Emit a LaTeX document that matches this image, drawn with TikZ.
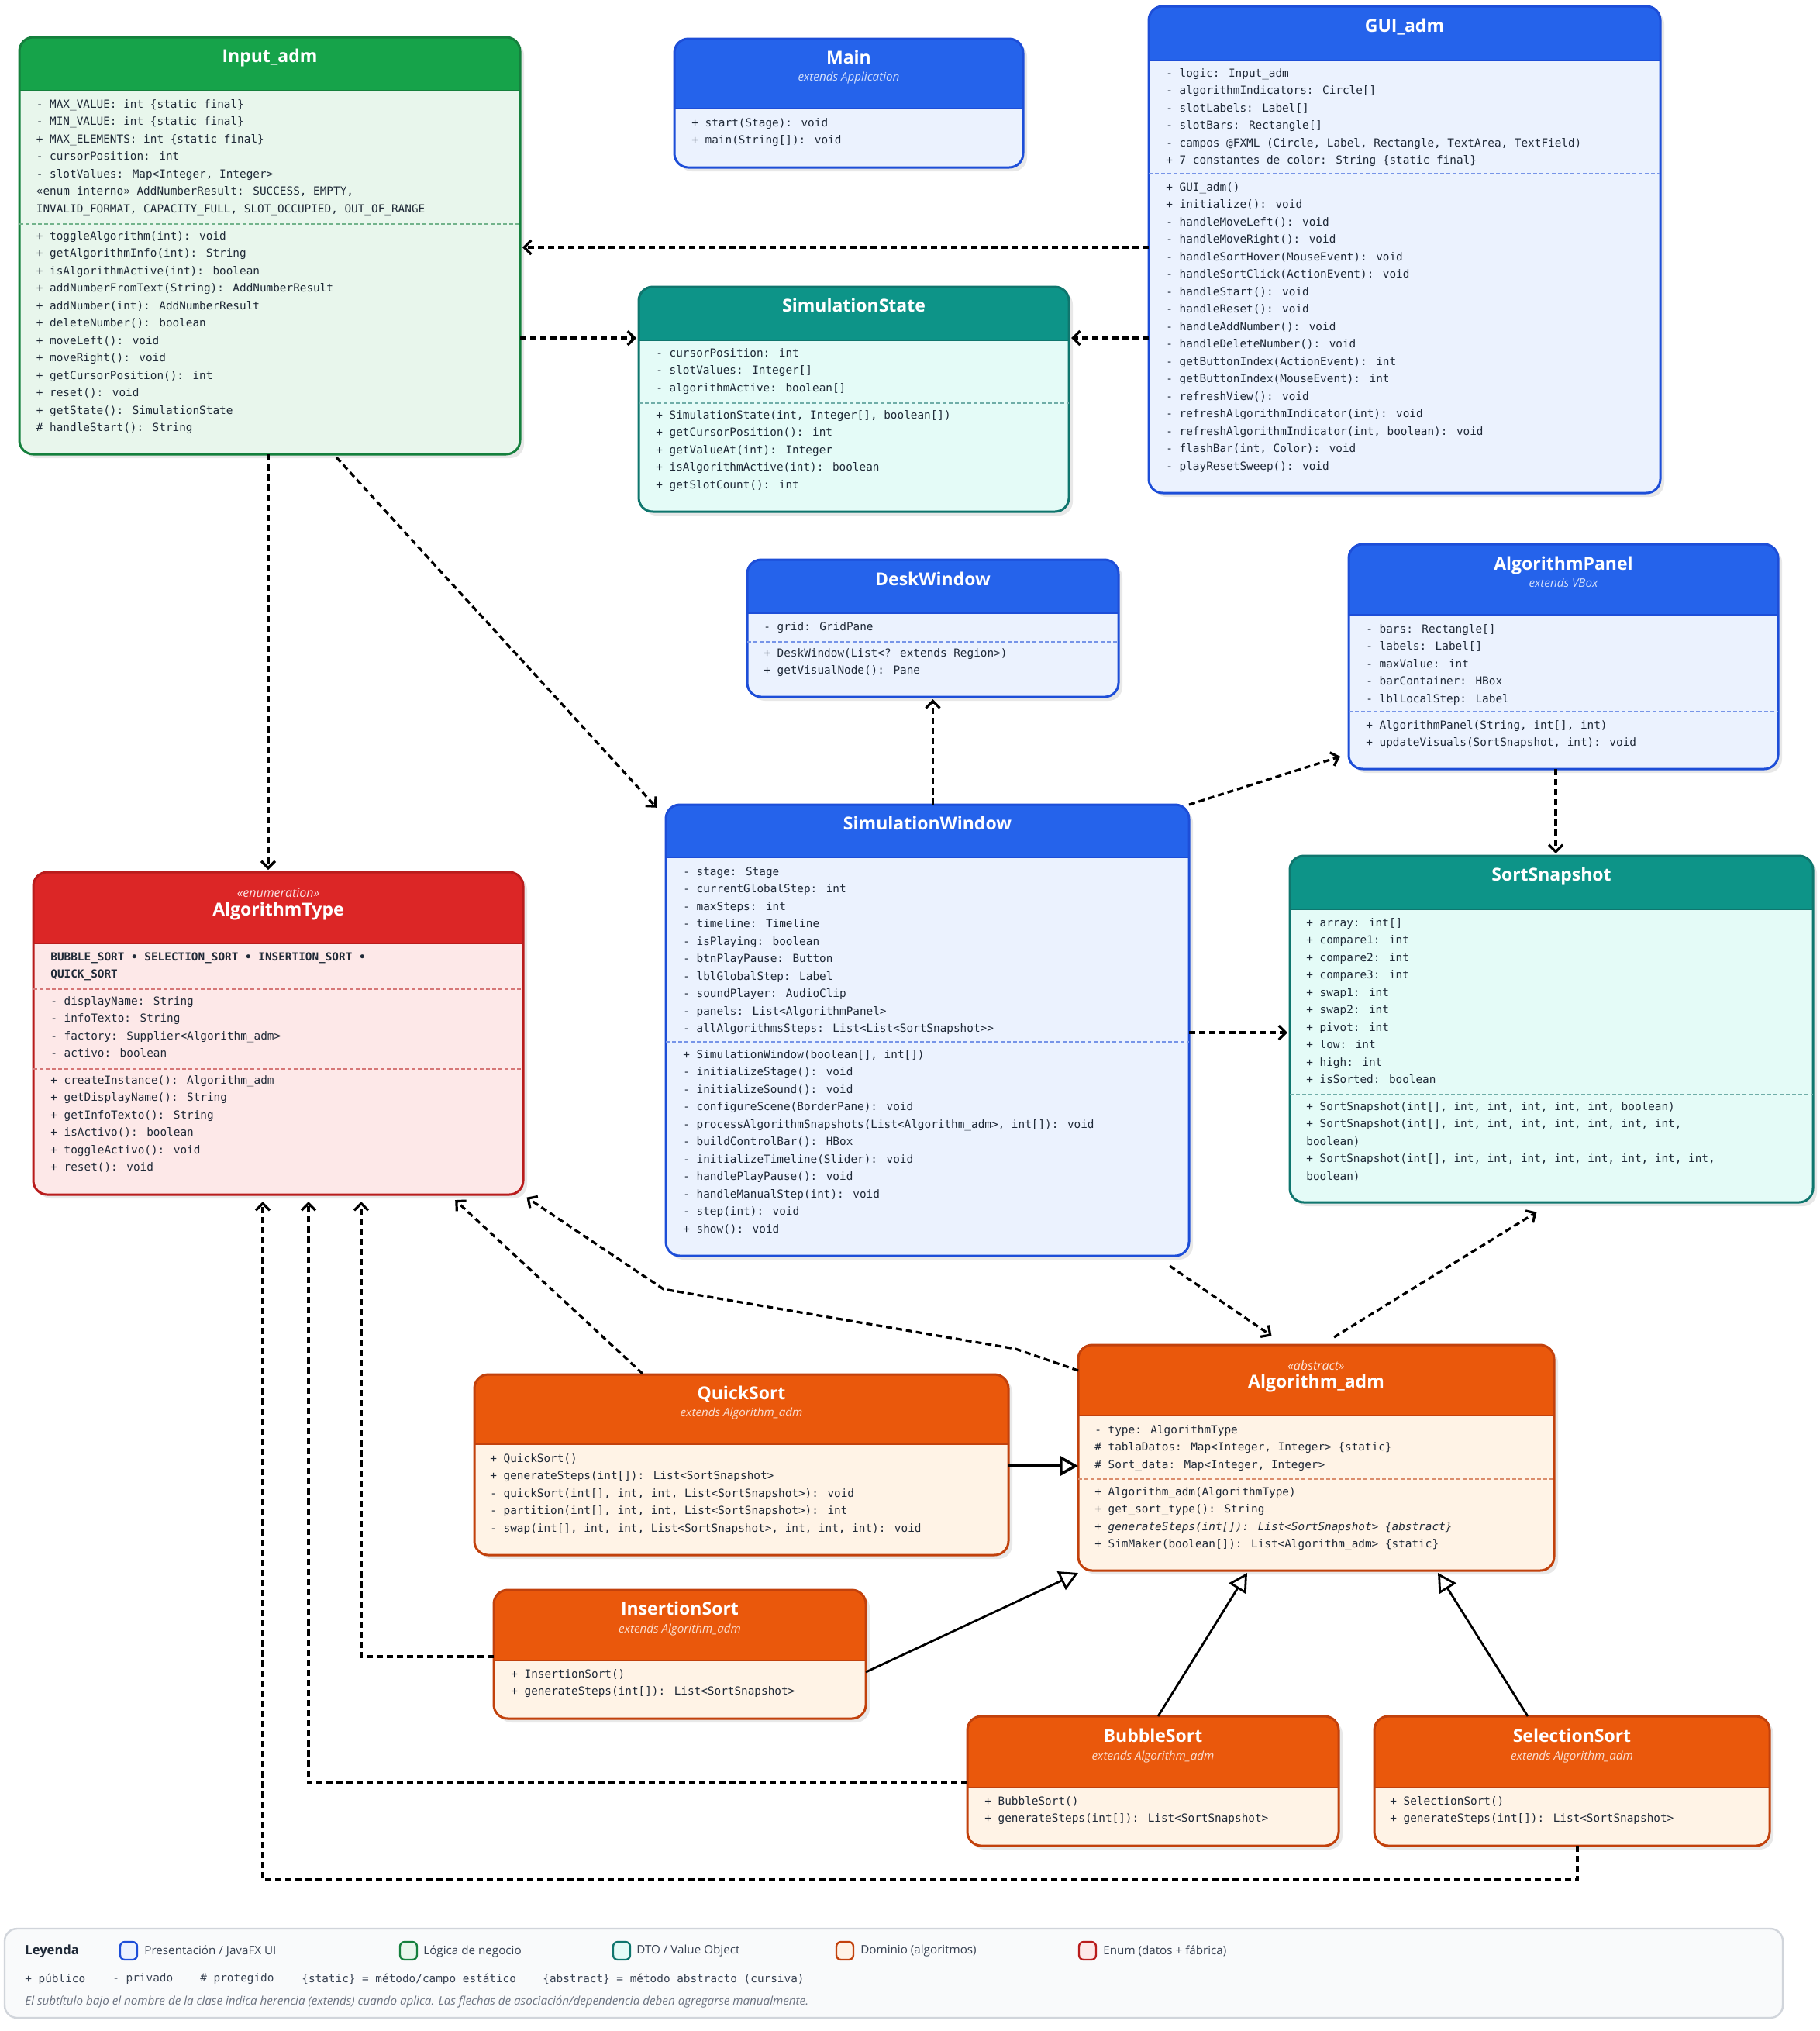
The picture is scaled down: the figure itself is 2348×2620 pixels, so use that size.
\documentclass[tikz,border=0pt]{standalone}
\usepackage{fontspec}
\setmainfont{Open Sans}
\newfontfamily\monof{DejaVu Sans Mono}
\usetikzlibrary{arrows.meta,calc,fit}
\definecolor{blueH}{HTML}{2563EB}\definecolor{blueB}{HTML}{EBF2FE}\definecolor{blueD}{HTML}{1D4ED8}
\definecolor{greenH}{HTML}{16A34A}\definecolor{greenB}{HTML}{E8F6EC}\definecolor{greenD}{HTML}{15803D}
\definecolor{tealH}{HTML}{0D9488}\definecolor{tealB}{HTML}{E4FBF7}\definecolor{tealD}{HTML}{0F766E}
\definecolor{orangeH}{HTML}{EA580C}\definecolor{orangeB}{HTML}{FFF3E6}\definecolor{orangeD}{HTML}{C2410C}
\definecolor{redH}{HTML}{DC2626}\definecolor{redB}{HTML}{FDE8E8}\definecolor{redD}{HTML}{B91C1C}
\definecolor{txt}{HTML}{1F2937}
\definecolor{legB}{HTML}{F9FAFB}\definecolor{legD}{HTML}{D1D5DB}
\definecolor{legT}{HTML}{374151}\definecolor{legI}{HTML}{6B7280}
\newcommand{\umlbox}[7]{%
  \fill[black!9, rounded corners=9pt] (#2+5,#3+5) rectangle (#4+5,#5+5);
  \begin{scope}
    \clip[rounded corners=9pt] (#2,#3) rectangle (#4,#5);
    \fill[#7B] (#2,#3) rectangle (#4,#5);
    \fill[#7H] (#2,#3) rectangle (#4,#6);
  \end{scope}
  \draw[#7D, line width=1.2pt] (#2,#6) -- (#4,#6);
  \draw[#7D, line width=1.5pt, rounded corners=9pt] (#2,#3) rectangle (#4,#5);
  \node[fit={(#2,#3) (#4,#5)}, inner sep=0pt, outer sep=0pt] (#1) {};
}
\newcommand{\umlsep}[4]{\draw[#4D!60, line width=0.6pt, dash pattern=on 2.5pt off 1.5pt] (#1,#3) -- (#2,#3);}
\tikzset{
  ttl/.style={font=\bfseries\fontsize{11.5}{13}\selectfont, text=white, anchor=base, inner sep=0pt},
  subt/.style={font=\itshape\fontsize{7.6}{9}\selectfont, text=white, text opacity=0.8, anchor=base, inner sep=0pt},
  stereo/.style={font=\itshape\fontsize{8}{9}\selectfont, text=white, text opacity=0.85, anchor=base, inner sep=0pt},
  body/.style={font=\monof\fontsize{7.18}{11.25}\selectfont, text=txt, anchor=north west, inner sep=0pt, align=left},
  dep/.style={draw=black, line width=1.6pt, dash pattern=on 4pt off 2.5pt, shorten >=1.5pt,
    -{Straight Barb[length=4.5pt,width=9pt]}},
  gen/.style={draw=black, line width=1.4pt, -{Triangle[fill=white,length=12pt,width=13pt]}},
  swatch/.style={line width=1.2pt, rounded corners=3pt},
  legtxt/.style={font=\fontsize{7.6}{9}\selectfont, text=legT, anchor=west, inner sep=0pt},
  legmono/.style={font=\monof\fontsize{7.18}{9}\selectfont, text=legT, anchor=west, inner sep=0pt}
}
\begin{document}
\begin{tikzpicture}[x=0.5pt,y=-0.5pt]
\useasboundingbox (0,0) rectangle (2348,2620);
\fill[white] (0,0) rectangle (2348,2620);

% ---------- Input_adm ----------
\umlbox{input}{25}{48}{671}{586}{117}{green}
\node[ttl] (t-input) at (348,80.6) {Input\_adm};
\node[body] (a-input) at (46.5,123) {\strut- MAX\_VALUE: int \{static final\}\\- MIN\_VALUE: int \{static final\}\\+ MAX\_ELEMENTS: int \{static final\}\\- cursorPosition: int\\- slotValues: Map<Integer, Integer>\\«enum interno» AddNumberResult: SUCCESS, EMPTY,\\INVALID\_FORMAT, CAPACITY\_FULL, SLOT\_OCCUPIED, OUT\_OF\_RANGE};
\umlsep{25}{671}{289}{green}
\node[body] (m-input) at (46.5,293) {\strut+ toggleAlgorithm(int): void\\+ getAlgorithmInfo(int): String\\+ isAlgorithmActive(int): boolean\\+ addNumberFromText(String): AddNumberResult\\+ addNumber(int): AddNumberResult\\+ deleteNumber(): boolean\\+ moveLeft(): void\\+ moveRight(): void\\+ getCursorPosition(): int\\+ reset(): void\\+ getState(): SimulationState\\\# handleStart(): String};

% ---------- Main ----------
\umlbox{main}{870}{50}{1320}{216}{140}{blue}
\node[ttl] (t-main) at (1095,82) {Main};
\node[subt] (s-main) at (1095,104) {extends Application};
\node[body] (m-main) at (892,147) {\strut+ start(Stage): void\\+ main(String[]): void};

% ---------- GUI_adm ----------
\umlbox{gui}{1482}{8}{2142}{636}{78}{blue}
\node[ttl] (t-gui) at (1812,41) {GUI\_adm};
\node[body] (a-gui) at (1504,83) {\strut- logic: Input\_adm\\- algorithmIndicators: Circle[]\\- slotLabels: Label[]\\- slotBars: Rectangle[]\\- campos @FXML (Circle, Label, Rectangle, TextArea, TextField)\\+ 7 constantes de color: String \{static final\}};
\umlsep{1482}{2142}{224}{blue}
\node[body] (m-gui) at (1504,230) {\strut+ GUI\_adm()\\+ initialize(): void\\- handleMoveLeft(): void\\- handleMoveRight(): void\\- handleSortHover(MouseEvent): void\\- handleSortClick(ActionEvent): void\\- handleStart(): void\\- handleReset(): void\\- handleAddNumber(): void\\- handleDeleteNumber(): void\\- getButtonIndex(ActionEvent): int\\- getButtonIndex(MouseEvent): int\\- refreshView(): void\\- refreshAlgorithmIndicator(int): void\\- refreshAlgorithmIndicator(int, boolean): void\\- flashBar(int, Color): void\\- playResetSweep(): void};

% ---------- SimulationState ----------
\umlbox{simstate}{824}{370}{1379}{660}{439}{teal}
\node[ttl] (t-simstate) at (1101.5,402) {SimulationState};
\node[body] (a-simstate) at (846,444) {\strut- cursorPosition: int\\- slotValues: Integer[]\\- algorithmActive: boolean[]};
\umlsep{824}{1379}{520}{teal}
\node[body] (m-simstate) at (846,524) {\strut+ SimulationState(int, Integer[], boolean[])\\+ getCursorPosition(): int\\+ getValueAt(int): Integer\\+ isAlgorithmActive(int): boolean\\+ getSlotCount(): int};

% ---------- DeskWindow ----------
\umlbox{desk}{964}{722}{1443}{899}{791}{blue}
\node[ttl] (t-desk) at (1203.5,755) {DeskWindow};
\node[body] (a-desk) at (985,797) {\strut- grid: GridPane};
\umlsep{964}{1443}{828}{blue}
\node[body] (m-desk) at (985,831) {\strut+ DeskWindow(List<? extends Region>)\\+ getVisualNode(): Pane};

% ---------- AlgorithmPanel ----------
\umlbox{panel}{1740}{702}{2294}{992}{793}{blue}
\node[ttl] (t-panel) at (2017,735) {AlgorithmPanel};
\node[subt] (s-panel) at (2017,757) {extends VBox};
\node[body] (a-panel) at (1762,800) {\strut- bars: Rectangle[]\\- labels: Label[]\\- maxValue: int\\- barContainer: HBox\\- lblLocalStep: Label};
\umlsep{1740}{2294}{918}{blue}
\node[body] (m-panel) at (1762,924) {\strut+ AlgorithmPanel(String, int[], int)\\+ updateVisuals(SortSnapshot, int): void};

% ---------- SimulationWindow ----------
\umlbox{simwin}{859}{1038}{1534}{1620}{1106}{blue}
\node[ttl] (t-simwin) at (1196.5,1070) {SimulationWindow};
\node[body] (a-simwin) at (881,1113) {\strut- stage: Stage\\- currentGlobalStep: int\\- maxSteps: int\\- timeline: Timeline\\- isPlaying: boolean\\- btnPlayPause: Button\\- lblGlobalStep: Label\\- soundPlayer: AudioClip\\- panels: List<AlgorithmPanel>\\- allAlgorithmsSteps: List<List<SortSnapshot>{}>};
\umlsep{859}{1534}{1344}{blue}
\node[body] (m-simwin) at (881,1349) {\strut+ SimulationWindow(boolean[], int[])\\- initializeStage(): void\\- initializeSound(): void\\- configureScene(BorderPane): void\\- processAlgorithmSnapshots(List<Algorithm\_adm>, int[]): void\\- buildControlBar(): HBox\\- initializeTimeline(Slider): void\\- handlePlayPause(): void\\- handleManualStep(int): void\\- step(int): void\\+ show(): void};

% ---------- SortSnapshot ----------
\umlbox{snap}{1664}{1104}{2339}{1551}{1173}{teal}
\node[ttl] (t-snap) at (2001.5,1136) {SortSnapshot};
\node[body] (a-snap) at (1685,1179) {\strut+ array: int[]\\+ compare1: int\\+ compare2: int\\+ compare3: int\\+ swap1: int\\+ swap2: int\\+ pivot: int\\+ low: int\\+ high: int\\+ isSorted: boolean};
\umlsep{1664}{2339}{1412}{teal}
\node[body] (m-snap) at (1685,1416) {\strut+ SortSnapshot(int[], int, int, int, int, int, boolean)\\+ SortSnapshot(int[], int, int, int, int, int, int, int,\\boolean)\\+ SortSnapshot(int[], int, int, int, int, int, int, int, int,\\boolean)};

% ---------- AlgorithmType ----------
\umlbox{algtype}{43}{1125}{675}{1541}{1217}{red}
\node[stereo] (s-algtype) at (359,1157) {«enumeration»};
\node[ttl] (t-algtype) at (359,1181) {AlgorithmType};
\node[body] (e-algtype) at (65,1223) {\strut\bfseries BUBBLE\_SORT • SELECTION\_SORT • INSERTION\_SORT •\\\bfseries QUICK\_SORT};
\umlsep{43}{675}{1276}{red}
\node[body] (a-algtype) at (65,1280) {\strut- displayName: String\\- infoTexto: String\\- factory: Supplier<Algorithm\_adm>\\- activo: boolean};
\umlsep{43}{675}{1379}{red}
\node[body] (m-algtype) at (65,1382) {\strut+ createInstance(): Algorithm\_adm\\+ getDisplayName(): String\\+ getInfoTexto(): String\\+ isActivo(): boolean\\+ toggleActivo(): void\\+ reset(): void};

% ---------- Algorithm_adm ----------
\umlbox{algadm}{1391}{1735}{2005}{2026}{1826}{orange}
\node[stereo] (s-algadm) at (1698,1767) {«abstract»};
\node[ttl] (t-algadm) at (1698,1790) {Algorithm\_adm};
\node[body] (a-algadm) at (1412,1833) {\strut- type: AlgorithmType\\\# tablaDatos: Map<Integer, Integer> \{static\}\\\# Sort\_data: Map<Integer, Integer>};
\umlsep{1391}{2005}{1908}{orange}
\node[body] (m-algadm) at (1412,1913) {\strut+ Algorithm\_adm(AlgorithmType)\\+ get\_sort\_type(): String\\\itshape + generateSteps(int[]): List<SortSnapshot> \{abstract\}\\+ SimMaker(boolean[]): List<Algorithm\_adm> \{static\}};

% ---------- QuickSort ----------
\umlbox{quick}{612}{1773}{1301}{2006}{1863}{orange}
\node[ttl] (t-quick) at (956.5,1805) {QuickSort};
\node[subt] (s-quick) at (956.5,1827.5) {extends Algorithm\_adm};
\node[body] (m-quick) at (632,1870) {\strut+ QuickSort()\\+ generateSteps(int[]): List<SortSnapshot>\\- quickSort(int[], int, int, List<SortSnapshot>): void\\- partition(int[], int, int, List<SortSnapshot>): int\\- swap(int[], int, int, List<SortSnapshot>, int, int, int): void};

% ---------- InsertionSort ----------
\umlbox{insertion}{637}{2051}{1117}{2217}{2142}{orange}
\node[ttl] (t-insertion) at (877,2083) {InsertionSort};
\node[subt] (s-insertion) at (877,2106) {extends Algorithm\_adm};
\node[body] (m-insertion) at (659,2148) {\strut+ InsertionSort()\\+ generateSteps(int[]): List<SortSnapshot>};

% ---------- BubbleSort ----------
\umlbox{bubble}{1248}{2214}{1727}{2381}{2306}{orange}
\node[ttl] (t-bubble) at (1487.5,2247) {BubbleSort};
\node[subt] (s-bubble) at (1487.5,2270) {extends Algorithm\_adm};
\node[body] (m-bubble) at (1270,2312) {\strut+ BubbleSort()\\+ generateSteps(int[]): List<SortSnapshot>};

% ---------- SelectionSort ----------
\umlbox{selection}{1773}{2214}{2283}{2381}{2306}{orange}
\node[ttl] (t-selection) at (2028,2247) {SelectionSort};
\node[subt] (s-selection) at (2028,2270) {extends Algorithm\_adm};
\node[body] (m-selection) at (1793,2312) {\strut+ SelectionSort()\\+ generateSteps(int[]): List<SortSnapshot>};

% ---------- helper coordinates ----------
\coordinate (yA) at (0,319);
\coordinate (yB) at (0,436);
\coordinate (xA) at (346,0);
\coordinate (xB) at (434,0);
\coordinate (xC) at (2007,0);
\coordinate (yC) at (0,1332);
\coordinate (yD) at (0,2137);
\coordinate (xD) at (466,0);
\coordinate (yE) at (0,2300);
\coordinate (xE) at (398,0);
\coordinate (xF) at (2035,0);
\coordinate (yG) at (0,2425);
\coordinate (xH) at (339,0);
\coordinate (yI) at (0,1891);
\coordinate (b1) at (1310,1740);
\coordinate (b2) at (856,1663);

% ---------- dependencies ----------
\draw[dep] (gui.west |- yA) -- (input.east |- yA);
\draw[dep] (gui.west |- yB) -- (simstate.east |- yB);
\draw[dep] (input.east |- yB) -- (simstate.west |- yB);
\draw[dep] (input.south -| xA) -- (algtype.north -| xA);
\draw[dep] ($(input.south -| xB)+(0,4)$) -- ($(simwin.north west)+(-10,6)$);
\draw[dep] (simwin.north -| desk.south) -- (desk.south);
\draw[dep] (simwin.north east) -- ($(panel.south west)+(-8,-17)$);
\draw[dep] (panel.south -| xC) -- (snap.north -| xC);
\draw[dep] (simwin.east |- yC) -- (snap.west |- yC);
\draw[dep] ($(simwin.south east)+(-25,13)$) -- ($(algadm.north west)+(252,-10)$);
\draw[dep] ($(algadm.north west)+(330,-10)$) -- ($(snap.south west)+(321,11)$);
\draw[dep] ($(algadm.north west)+(0,33)$) -- (b1) -- (b2) -- ($(algtype.south east)+(2,2)$);
\draw[dep] ($(quick.north west)+(217,-1)$) -- ($(algtype.south west)+(542,5)$);
\draw[dep] (insertion.west |- yD) -| ($(algtype.south -| xD)+(0,6)$);
\draw[dep] (bubble.west |- yE) -| ($(algtype.south -| xE)+(0,6)$);
\draw[dep] (selection.south -| xF) -- (xF |- yG) -| ($(algtype.south -| xH)+(0,6)$);

% ---------- generalizations ----------
\draw[gen, line width=1.8pt] (quick.east |- yI) -- (algadm.west |- yI);
\draw[gen] ($(insertion.north east)+(0,106)$) -- ($(algadm.south west)+(0,3)$);
\draw[gen] ($(bubble.north west)+(246,0)$) -- ($(algadm.south west)+(218,3)$);
\draw[gen] ($(selection.north west)+(198,0)$) -- ($(algadm.south west)+(464,3)$);

% ---------- legend ----------
\draw[legD, fill=legB, line width=1.2pt, rounded corners=8pt] (6,2488) rectangle (2300,2603);
\node[font=\bfseries\fontsize{8.3}{10}\selectfont, text=txt, anchor=west, inner sep=0pt] (leg-title) at (32,2517) {Leyenda};
\draw[swatch, blueD, fill=blueB] (155,2505) rectangle (177,2528);
\node[legtxt] (leg1) at (186,2517) {Presentación / JavaFX UI};
\draw[swatch, greenD, fill=greenB] (516,2505) rectangle (538,2528);
\node[legtxt] (leg2) at (546,2517) {Lógica de negocio};
\draw[swatch, tealD, fill=tealB] (791,2505) rectangle (813,2528);
\node[legtxt] (leg3) at (821,2517) {DTO / Value Object};
\draw[swatch, orangeD, fill=orangeB] (1079,2505) rectangle (1101,2528);
\node[legtxt] (leg4) at (1110,2517) {Dominio (algoritmos)};
\draw[swatch, redD, fill=redB] (1392,2505) rectangle (1414,2528);
\node[legtxt] (leg5) at (1423,2517) {Enum (datos + fábrica)};
\node[legmono] (lm1) at (32,2553) {+ público};
\node[legmono] (lm2) at (145,2553) {- privado};
\node[legmono] (lm3) at (258,2553) {\# protegido};
\node[legmono] (lm4) at (389,2553) {\{static\} = método/campo estático};
\node[legmono] (lm5) at (700,2553) {\{abstract\} = método abstracto (cursiva)};
\node[font=\itshape\fontsize{7.6}{9}\selectfont, text=legI, anchor=west, inner sep=0pt] (leg-note) at (32,2582) {El subtítulo bajo el nombre de la clase indica herencia (extends) cuando aplica. Las flechas de asociación/dependencia deben agregarse manualmente.};
\end{tikzpicture}
\end{document}
